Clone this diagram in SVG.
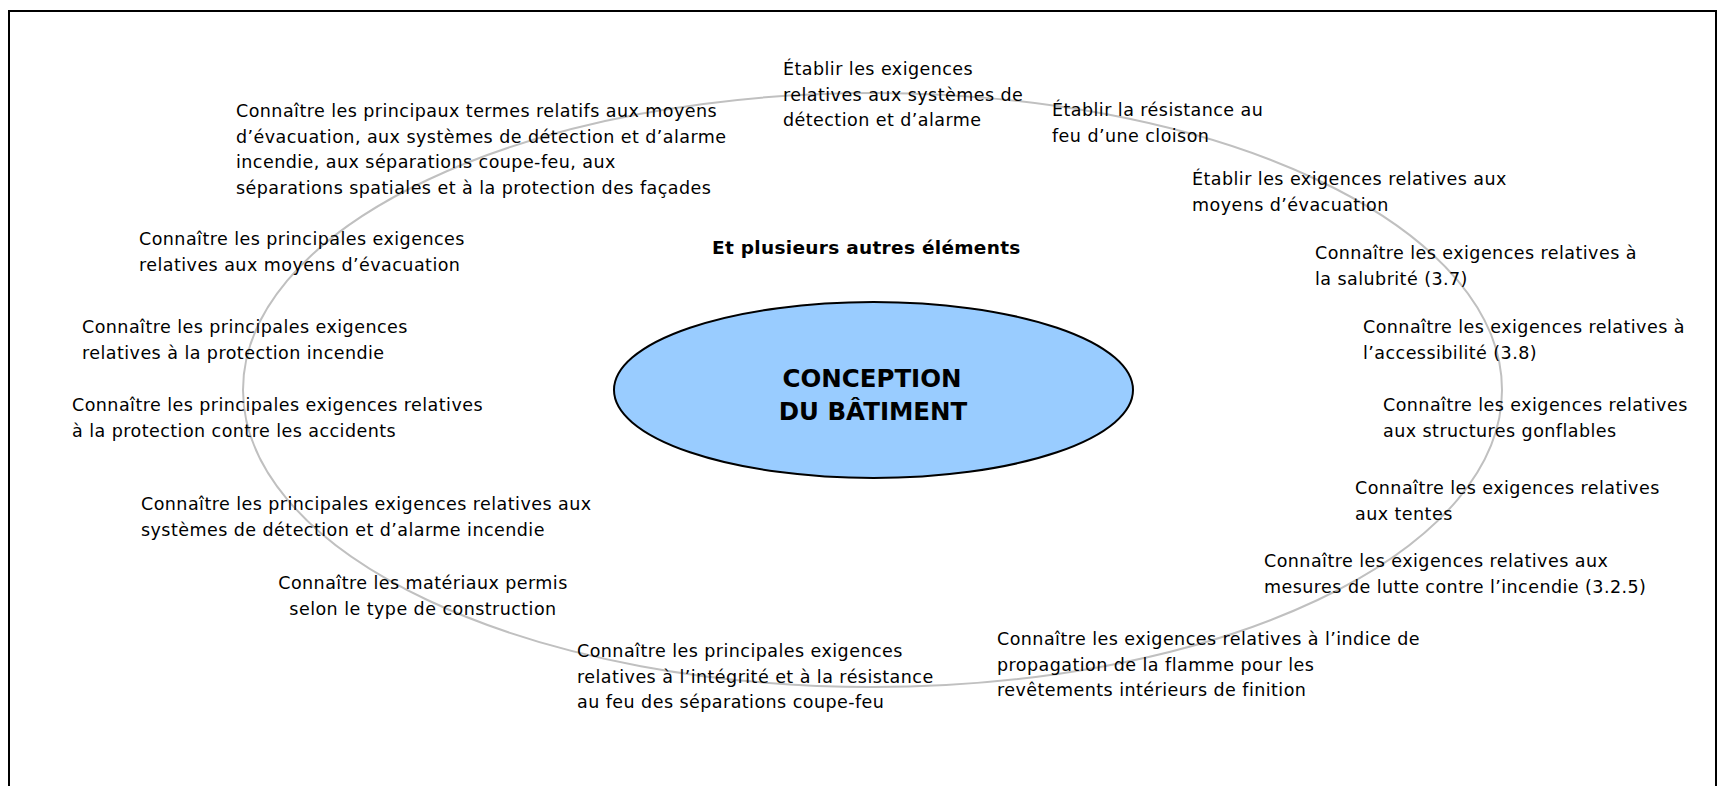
<svg xmlns="http://www.w3.org/2000/svg" width="1718" height="786" viewBox="0 0 1718 786">
<style>
.t{font-family:"DejaVu Sans","Liberation Sans",sans-serif;font-size:17.5px;letter-spacing:0.45px;fill:#000}
.b{font-family:"DejaVu Sans","Liberation Sans",sans-serif;font-weight:bold;fill:#000}
</style>
<rect width="1718" height="786" fill="#fff"/>
<path d="M9,790 V11 H1716 V790" fill="none" stroke="#000" stroke-width="2"/>
<g id="connectors">
<ellipse cx="872.5" cy="390" rx="629.5" ry="297" fill="none" stroke="#c0c0c0" stroke-width="2"/>
</g>
<g id="center">
<ellipse cx="873.5" cy="390" rx="259.5" ry="88" fill="#99ccff" stroke="#000" stroke-width="2"/>
<text class="b" font-size="24.5" text-anchor="middle" x="872" y="387">CONCEPTION</text>
<text class="b" font-size="24.5" text-anchor="middle" x="873" y="420">DU BÂTIMENT</text>
</g>
<g id="autres"><text class="b" font-size="18.5" letter-spacing="0.3" x="712" y="254">Et plusieurs autres éléments</text></g>
<g id="nA"><text class="t" x="783" y="75">Établir les exigences<tspan x="783" dy="25.5">relatives aux systèmes de</tspan><tspan x="783" dy="25.5">détection et d’alarme</tspan></text></g>
<g id="nB"><text class="t" x="1052" y="116">Établir la résistance au<tspan x="1052" dy="25.5">feu d’une cloison</tspan></text></g>
<g id="nC"><text class="t" x="236" y="117">Connaître les principaux termes relatifs aux moyens<tspan x="236" dy="25.5">d’évacuation, aux systèmes de détection et d’alarme</tspan><tspan x="236" dy="25.5">incendie, aux séparations coupe-feu, aux</tspan><tspan x="236" dy="25.5">séparations spatiales et à la protection des façades</tspan></text></g>
<g id="nD"><text class="t" x="1192" y="185">Établir les exigences relatives aux<tspan x="1192" dy="25.5">moyens d’évacuation</tspan></text></g>
<g id="nE"><text class="t" x="139" y="245">Connaître les principales exigences<tspan x="139" dy="25.5">relatives aux moyens d’évacuation</tspan></text></g>
<g id="nG"><text class="t" x="1315" y="259">Connaître les exigences relatives à<tspan x="1315" dy="25.5">la salubrité (3.7)</tspan></text></g>
<g id="nH"><text class="t" x="82" y="333">Connaître les principales exigences<tspan x="82" dy="25.5">relatives à la protection incendie</tspan></text></g>
<g id="nI"><text class="t" x="1363" y="333">Connaître les exigences relatives à<tspan x="1363" dy="25.5">l’accessibilité (3.8)</tspan></text></g>
<g id="nJ"><text class="t" x="72" y="411">Connaître les principales exigences relatives<tspan x="72" dy="25.5">à la protection contre les accidents</tspan></text></g>
<g id="nK"><text class="t" x="1383" y="411">Connaître les exigences relatives<tspan x="1383" dy="25.5">aux structures gonflables</tspan></text></g>
<g id="nL"><text class="t" x="1355" y="494">Connaître les exigences relatives<tspan x="1355" dy="25.5">aux tentes</tspan></text></g>
<g id="nM"><text class="t" x="141" y="510">Connaître les principales exigences relatives aux<tspan x="141" dy="25.5">systèmes de détection et d’alarme incendie</tspan></text></g>
<g id="nN"><text class="t" x="1264" y="567">Connaître les exigences relatives aux<tspan x="1264" dy="25.5">mesures de lutte contre l’incendie (3.2.5)</tspan></text></g>
<g id="nO"><text class="t" text-anchor="middle" x="423" y="589">Connaître les matériaux permis<tspan x="423" dy="25.5">selon le type de construction</tspan></text></g>
<g id="nP"><text class="t" x="997" y="645">Connaître les exigences relatives à l’indice de<tspan x="997" dy="25.5">propagation de la flamme pour les</tspan><tspan x="997" dy="25.5">revêtements intérieurs de finition</tspan></text></g>
<g id="nQ"><text class="t" x="577" y="657">Connaître les principales exigences<tspan x="577" dy="25.5">relatives à l’intégrité et à la résistance</tspan><tspan x="577" dy="25.5">au feu des séparations coupe-feu</tspan></text></g>
</svg>
